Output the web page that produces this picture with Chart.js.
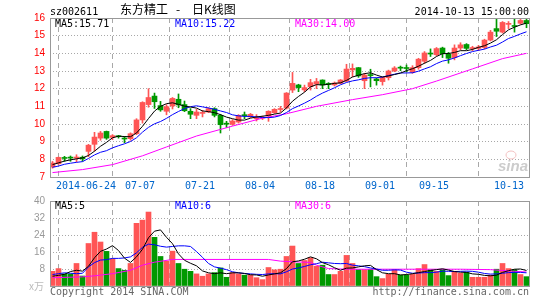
<!DOCTYPE html>
<html>
<head>
<meta charset="utf-8">
<script src="https://cdn.jsdelivr.net/npm/chart.js@4/dist/chart.umd.min.js"></script>
<style>
  body { margin: 0; background: #fff; width: 545px; height: 300px; overflow: hidden; position: relative; }
  canvas { position: absolute; left: 0; top: 0; }
  .t { position: absolute; font-family: "DejaVu Sans Mono", monospace; font-size: 10px; line-height: 10px; white-space: nowrap; }
  .cn { position: absolute; font-family: "Noto Sans CJK SC", sans-serif; font-size: 12px; line-height: 12px; white-space: nowrap; }
</style>
</head>
<body>
<canvas id="kline" width="545" height="300"></canvas>
<canvas id="vol" width="545" height="300"></canvas>

<div class="t" style="left:50px;top:7px;color:#000">sz002611</div>
<div class="cn" style="left:120px;top:3px;color:#000">东方精工</div>
<div class="cn" style="left:176px;top:3px;color:#000">-</div>
<div class="cn" style="left:192px;top:3px;color:#000">日K线图</div>
<div class="t" style="right:16px;top:7px;color:#000">2014-10-13 15:00:00</div>

<div class="t" style="left:55px;top:19px;color:#000">MA5:15.71</div>
<div class="t" style="left:175px;top:19px;color:#0000ff">MA10:15.22</div>
<div class="t" style="left:295px;top:19px;color:#ff00ff">MA30:14.00</div>

<div class="t" style="left:55px;top:201px;color:#000">MA5:5</div>
<div class="t" style="left:175px;top:201px;color:#0000ff">MA10:6</div>
<div class="t" style="left:295px;top:201px;color:#ff00ff">MA30:6</div>

<div class="cn" style="left:29px;top:281px;font-size:10px;line-height:10px;color:#bbb">x万</div>
<div class="t" style="left:50px;top:287px;color:#666">Copyright 2014 SINA.COM</div>
<div class="t" style="right:16px;top:287px;color:#666">http://finance.sina.com.cn</div>

<script>
// daily candles, 2014-06-16 .. 2014-10-13 (index 0..79)
var open = [7.57,7.75,8.08,8.10,8.07,8.12,8.45,8.85,9.20,9.58, 9.24,9.32,9.19,9.17,9.45,10.23,11.10,11.58,11.04,10.72,
  11.02,11.40,11.10,10.72,10.49,10.60,10.68,10.87,10.49,10.02, 9.98,10.11,10.50,10.40,10.30,10.33,10.45,10.64,10.82,10.90,
  11.92,12.21,11.93,12.11,12.26,12.49,12.26,12.21,12.30,12.43, 13.06,13.19,12.45,12.77,12.55,12.40,12.62,13.00,13.19,13.17,
  12.93,13.19,13.55,14.00,13.92,14.30,13.96,13.76,14.30,14.50, 14.27,14.28,14.33,14.75,15.40,15.20,15.64,15.56,15.70,15.86];
var high = [7.88,8.13,8.17,8.19,8.26,8.19,8.85,9.53,9.58,9.60, 9.40,9.36,9.30,9.50,10.30,11.26,12.00,11.75,11.28,11.10,
  11.50,11.70,11.30,10.87,10.83,10.77,10.92,10.92,10.55,10.15, 10.25,10.53,10.68,10.60,10.53,10.45,10.75,10.87,11.00,11.78,
  12.92,12.25,12.20,12.53,12.58,12.50,12.34,12.38,12.52,13.38, 13.40,13.20,12.87,13.10,12.60,12.66,13.05,13.25,13.28,13.34,
  13.30,13.72,14.10,14.25,14.33,14.35,14.05,14.48,14.60,14.55, 14.40,14.45,14.80,15.30,15.98,15.80,15.80,15.98,15.92,15.95];
var low = [7.50,7.72,7.89,7.89,7.85,7.89,8.15,8.47,9.08,9.13, 9.11,9.20,8.94,9.08,9.40,10.05,10.95,10.88,10.72,10.52,
  10.85,10.92,10.70,10.30,10.30,10.40,10.64,10.40,9.49,9.80, 9.92,10.05,10.30,10.36,10.17,10.25,10.15,10.60,10.68,10.85,
  11.78,11.83,11.83,11.92,12.00,12.00,12.00,12.15,12.28,12.40, 12.68,12.64,12.00,12.10,12.20,12.20,12.49,12.96,13.02,12.96,
  12.87,13.10,13.43,13.82,13.86,13.76,13.44,13.63,14.20,14.20, 14.15,14.15,14.25,14.70,14.95,15.15,15.40,15.20,15.65,15.45];
var close = [7.79,8.11,8.05,8.07,8.13,8.03,8.80,9.26,9.49,9.20, 9.34,9.28,9.15,9.45,10.23,11.22,11.50,11.26,10.80,10.98,
  11.45,11.08,10.75,10.55,10.68,10.63,10.87,10.49,9.96,9.99, 10.17,10.49,10.47,10.55,10.33,10.38,10.72,10.83,10.85,11.75,
  12.30,12.06,12.06,12.34,12.40,12.21,12.24,12.32,12.49,13.11, 13.15,12.72,12.77,12.74,12.45,12.64,13.00,13.17,13.16,13.14,
  13.19,13.67,14.02,13.96,14.27,13.98,13.72,14.30,14.48,14.28, 14.30,14.36,14.75,15.20,15.25,15.75,15.68,15.52,15.86,15.68];

// price moving averages
var ma5 = [7.70,7.80,7.90,7.97,8.03,8.08,8.22,8.46,8.74,8.96, 9.22,9.31,9.29,9.28,9.49,9.87,10.31,10.73,11.00,11.15,
  11.20,11.11,11.01,10.96,10.90,10.74,10.70,10.64,10.53,10.39, 10.30,10.22,10.22,10.33,10.40,10.44,10.49,10.56,10.62,10.91,
  11.29,11.56,11.80,12.10,12.23,12.21,12.25,12.30,12.33,12.47, 12.66,12.76,12.85,12.90,12.77,12.66,12.72,12.80,12.88,13.02,
  13.13,13.27,13.44,13.60,13.82,13.98,13.99,14.05,14.15,14.15, 14.22,14.34,14.43,14.58,14.77,15.06,15.33,15.48,15.61,15.71];
var ma10 = [7.55,7.62,7.72,7.78,7.83,7.87,8.05,8.25,8.40,8.49, 8.65,8.77,8.88,9.01,9.22,9.54,9.81,10.01,10.14,10.32,
  10.53,10.71,10.87,10.98,11.03,10.97,10.91,10.83,10.74,10.65, 10.52,10.46,10.43,10.43,10.40,10.37,10.36,10.39,10.48,10.65,
  10.87,11.02,11.18,11.36,11.57,11.75,11.90,12.05,12.22,12.35, 12.44,12.50,12.58,12.62,12.62,12.66,12.74,12.82,12.89,12.89,
  12.90,12.99,13.12,13.24,13.42,13.56,13.63,13.74,13.87,13.99, 14.10,14.17,14.24,14.36,14.46,14.64,14.84,14.96,15.10,15.22];
var ma30 = [[0,7.25],[5,7.42],[10,7.70],[15,8.20],[19,8.70],[24,9.32],[30,9.88],[35,10.33],[39,10.58],
  [44,11.00],[50,11.38],[55,11.66],[60,12.00],[64,12.43],[70,13.12],[75,13.70],[79,14.00]];

// volume (x万) and its averages
var volume = [6.9,8.2,5.7,5.7,10.6,4.7,20.0,25.3,20.7,16.3, 12.8,8.2,7.4,10.6,29.5,31.0,34.8,22.9,13.9,11.7,
  16.4,10.6,7.9,6.9,5.7,4.6,5.7,6.3,8.5,4.1, 6.3,5.7,5.1,5.1,3.9,3.0,8.7,7.6,7.9,13.9,
  18.8,10.6,12.0,13.3,9.3,9.8,5.4,5.4,6.9,14.4, 10.6,7.7,7.7,7.9,4.4,3.5,5.5,7.7,5.1,5.1,
  5.5,8.2,10.1,7.7,6.9,7.7,4.9,6.8,6.0,6.5, 4.1,4.1,4.1,5.1,7.9,10.6,8.2,7.7,5.4,4.4];
var volMa5 = [4.6,5.0,5.5,6.8,7.4,7.0,9.3,13.3,16.3,17.4, 19.0,16.7,13.1,11.1,13.7,17.3,22.7,25.8,26.4,22.9,
  19.9,15.1,12.1,10.7,9.5,7.1,6.2,5.8,6.2,5.8, 6.2,6.2,5.9,5.3,5.2,4.6,5.2,5.7,6.2,8.2,
  11.4,11.8,12.6,13.7,12.8,11.0,10.0,8.6,7.4,8.4, 8.5,9.0,9.5,9.7,7.7,6.2,5.8,5.8,5.2,5.4,
  5.8,6.3,6.8,7.3,7.7,8.1,7.5,6.8,6.5,6.4, 5.7,5.5,5.0,4.8,5.1,6.4,7.2,7.9,8.0,7.3];
var volMa10 = [5.4,5.8,6.2,6.0,5.8,6.0,9.0,11.0,12.2,12.4, 13.0,13.0,13.2,13.7,15.6,18.2,19.7,19.4,18.7,18.3,
  18.6,18.9,18.9,18.6,16.2,13.5,10.6,9.0,8.4,7.7, 6.7,6.2,5.9,5.7,5.5,5.4,5.7,5.8,5.7,6.7,
  8.0,8.5,9.2,10.0,10.5,11.2,10.9,10.6,10.5,10.6, 9.8,9.5,9.1,8.5,8.0,7.4,7.4,7.6,7.5,6.5,
  6.0,6.1,6.3,6.3,6.5,7.0,6.9,6.8,6.9,7.0, 6.9,6.5,5.9,5.6,5.7,6.0,6.3,6.4,6.4,6.2];
var volMa30 = [[0,3.9],[5,4.3],[7,4.8],[10,5.8],[13,7.4],[15,9.8],[17,11.2],[20,12.5],[36,12.5],[38,11.7],
  [40,11.4],[43,11.1],[44,9.8],[46,8.2],[49,7.9],[68,7.9],[73,7.7],[77,6.9],[79,6.6]];

// date ticks
var dateIdx = [6, 15, 25, 35, 45, 55, 64, 79];
var dateText = ['2014-06-24', '07-07', '07-21', '08-04', '08-18', '09-01', '09-15', '10-13'];

var RED = '#ff5555';
var GREEN = '#009900';
var colors = open.map(function (o, i) { return close[i] >= o ? RED : GREEN; });

function series(arr) { return arr.map(function (v, i) { return { x: i, y: v }; }); }
function pairs(arr) { return arr.map(function (p) { return { x: p[0], y: p[1] }; }); }
function line(data, color) {
  return { type: 'line', data: data, borderColor: color, borderWidth: 1, pointRadius: 0, tension: 0, order: 0 };
}

// frame, date labels and the watermark
var decor = {
  id: 'decor',
  afterDraw: function (chart, args, opts) {
    var ctx = chart.ctx, a = chart.chartArea;
    ctx.save();
    ctx.strokeStyle = '#999';
    ctx.lineWidth = 1;
    ctx.strokeRect(a.left + 0.5, a.top + 0.5, a.right - a.left - 1, a.bottom - a.top);
    if (opts.dates) {
      ctx.font = '10px "DejaVu Sans Mono"';
      ctx.fillStyle = '#0066cc';
      ctx.textBaseline = 'middle';
      ctx.textAlign = 'left';
      dateIdx.forEach(function (d, k) {
        var x = chart.scales.x.getPixelForValue(d - 0.42);
        var w = ctx.measureText(dateText[k]).width;
        var left = x - w / 2;
        if (left + w > a.right - 4) left = a.right - 6 - w;
        ctx.fillText(dateText[k], left, a.bottom + 9);
      });
      // sina watermark
      ctx.font = 'italic bold 15px "Liberation Sans"';
      ctx.fillStyle = '#cccccc';
      ctx.textAlign = 'right';
      ctx.textBaseline = 'alphabetic';
      ctx.fillText('sina', a.right - 2, a.bottom - 6);
      ctx.strokeStyle = '#f3c0c0';
      ctx.beginPath();
      ctx.ellipse(a.right - 19, a.bottom - 22, 5, 4, 0, 0, Math.PI * 2);
      ctx.stroke();
    }
    ctx.restore();
  }
};

function xScale() {
  return {
    type: 'linear', min: -0.4167, max: 79.5833, offset: false,
    afterBuildTicks: function (s) { s.ticks = dateIdx.map(function (d) { return { value: d - 0.42 }; }); },
    ticks: { display: false },
    grid: { color: '#a8a8a8', drawTicks: false },
    border: { display: false, dash: [5, 4] }
  };
}

new Chart(document.getElementById('kline'), {
  type: 'bar',
  data: {
    datasets: [
      line(series(ma5), '#000000'),
      line(series(ma10), '#0000ff'),
      line(pairs(ma30), '#ff00ff'),
      { type: 'bar', data: open.map(function (o, i) { return { x: i, y: [o, close[i]] }; }),
        backgroundColor: colors, barThickness: 5, minBarLength: 1, grouped: false, order: 1 },
      { type: 'bar', data: low.map(function (l, i) { return { x: i, y: [l, high[i]] }; }),
        backgroundColor: colors, barThickness: 1, grouped: false, order: 2 }
    ]
  },
  options: {
    responsive: false, animation: false, devicePixelRatio: 1,
    layout: { padding: { top: 18, right: 15, bottom: 123, left: 0 } },
    plugins: { legend: { display: false }, tooltip: { enabled: false }, decor: { dates: true } },
    scales: {
      x: xScale(),
      y: {
        min: 7, max: 16,
        afterFit: function (s) { s.width = 50; },
        ticks: { stepSize: 1, color: '#ff0000', padding: 5, font: { family: 'Liberation Sans', size: 10 } },
        grid: { color: '#a8a8a8', drawTicks: false },
        border: { display: false, dash: [1, 2] }
      }
    }
  },
  plugins: [decor]
});

new Chart(document.getElementById('vol'), {
  type: 'bar',
  data: {
    datasets: [
      line(series(volMa5), '#000000'),
      line(series(volMa10), '#0000ff'),
      line(pairs(volMa30), '#ff00ff'),
      { type: 'bar', data: series(volume), backgroundColor: colors, barThickness: 5, grouped: false, order: 1 }
    ]
  },
  options: {
    responsive: false, animation: false, devicePixelRatio: 1,
    layout: { padding: { top: 201, right: 15, bottom: 14, left: 0 } },
    plugins: { legend: { display: false }, tooltip: { enabled: false }, decor: { dates: false } },
    scales: {
      x: xScale(),
      y: {
        min: 0, max: 40,
        afterFit: function (s) { s.width = 50; },
        ticks: { stepSize: 8, color: '#999999', padding: 5, font: { family: 'Liberation Sans', size: 10 },
          callback: function (v) { return v === 0 ? '' : v; } },
        grid: { color: '#a8a8a8', drawTicks: false },
        border: { display: false, dash: [1, 2] }
      }
    }
  },
  plugins: [decor]
});
</script>
</body>
</html>
